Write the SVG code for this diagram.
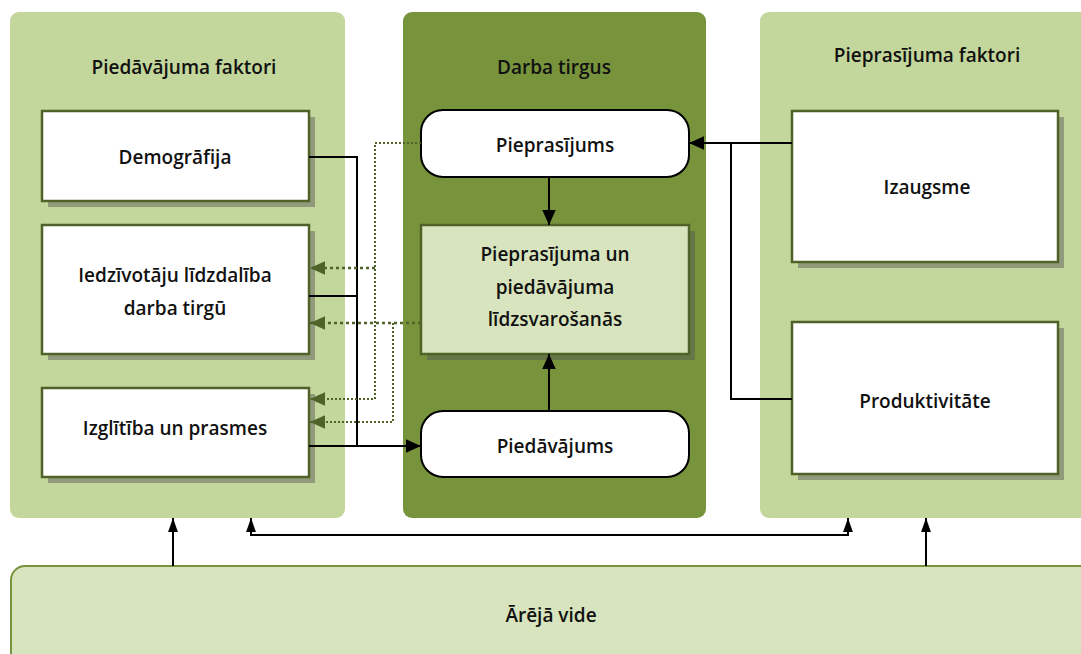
<svg xmlns="http://www.w3.org/2000/svg" width="1081" height="654" viewBox="0 0 1081 654">
<defs>
<style>
text{font-family:"Open Sans","Noto Sans",sans-serif;font-size:19px;font-weight:600;fill:#111;text-anchor:middle}
.panelL{fill:#c3d69b}
.panelM{fill:#77933c}
.box{fill:#fff;stroke:#4f6228;stroke-width:2.5}
.boxG{fill:#d7e4bd;stroke:#4f6228;stroke-width:2.5}
.sh{fill:#555;opacity:0.45}
.rbox{fill:#fff;stroke:#000;stroke-width:2}
.solid{fill:none;stroke:#000;stroke-width:2}
.dot{fill:none;stroke:#4f6228;stroke-width:2.5;stroke-dasharray:3 3}
.dotT{fill:none;stroke:#4f6228;stroke-width:2;stroke-dasharray:2 2}
</style>
<marker id="ab" viewBox="0 0 10 10" refX="10" refY="5" markerWidth="15" markerHeight="15" orient="auto" markerUnits="userSpaceOnUse"><path d="M0,0.5 L10,5 L0,9.5 z" fill="#000"/></marker>
<marker id="abn" viewBox="0 0 10 10" refX="10" refY="5" markerWidth="14" markerHeight="14" orient="auto" markerUnits="userSpaceOnUse"><path d="M0,1.5 L10,5 L0,8.5 z" fill="#000"/></marker>
<marker id="ag" viewBox="0 0 10 10" refX="10" refY="5" markerWidth="15" markerHeight="15" orient="auto" markerUnits="userSpaceOnUse"><path d="M0,0.5 L10,5 L0,9.5 z" fill="#4f6228"/></marker>
</defs>
<g id="panel-supply"><rect class="panelL" x="10" y="12" width="335" height="506" rx="9"/><text x="184" y="74">Piedāvājuma faktori</text></g>
<g id="panel-market"><rect class="panelM" x="403" y="12" width="303" height="506" rx="9"/><text x="554" y="74">Darba tirgus</text></g>
<g id="panel-demand"><rect class="panelL" x="760" y="12" width="340" height="506" rx="9"/><text x="927" y="62">Pieprasījuma faktori</text></g>
<g id="env"><rect x="11" y="566" width="1090" height="110" rx="14" fill="#d7e4bd" stroke="#77933c" stroke-width="2"/><text x="551" y="622">Ārējā vide</text></g>
<g id="demografija"><rect class="sh" x="48" y="117" width="267" height="90"/><rect class="box" x="42" y="111" width="267" height="90"/><text x="175" y="164">Demogrāfija</text></g>
<g id="lidzdaliba"><rect class="sh" x="48" y="231" width="267" height="129"/><rect class="box" x="42" y="225" width="267" height="129"/><text x="175" y="282">Iedzīvotāju līdzdalība</text><text x="175" y="315">darba tirgū</text></g>
<g id="izglitiba"><rect class="sh" x="48" y="394" width="267" height="89"/><rect class="box" x="42" y="388" width="267" height="89"/><text x="175" y="435">Izglītība un prasmes</text></g>
<g id="pieprasijums"><rect class="rbox" x="421" y="110" width="268" height="67" rx="22"/><text x="555" y="152">Pieprasījums</text></g>
<g id="lidzsvarosana"><rect class="sh" x="427" y="231" width="268" height="129"/><rect class="boxG" x="421" y="225" width="268" height="129"/><text x="555" y="261">Pieprasījuma un</text><text x="555" y="294">piedāvājuma</text><text x="555" y="326">līdzsvarošanās</text></g>
<g id="piedavajums"><rect class="rbox" x="421" y="411" width="268" height="66" rx="22"/><text x="555" y="453">Piedāvājums</text></g>
<g id="izaugsme"><rect class="sh" x="798" y="117" width="266" height="151"/><rect class="box" x="792" y="111" width="266" height="151"/><text x="927" y="194">Izaugsme</text></g>
<g id="produktivitate"><rect class="sh" x="798" y="328" width="266" height="152"/><rect class="box" x="792" y="322" width="266" height="152"/><text x="925" y="408">Produktivitāte</text></g>
<g id="connectors">
<path class="solid" d="M309,157 H357 V446"/>
<path class="solid" d="M309,296 H357"/>
<path class="solid" d="M309,446 H421" marker-end="url(#ab)"/>
<path class="dotT" d="M421,143 H375 V399 H310" marker-end="url(#ag)"/>
<path class="dot" d="M375,268 H310" marker-end="url(#ag)"/>
<path class="dot" d="M421,323 H310" marker-end="url(#ag)"/>
<path class="dotT" d="M393,323 V422 H310" marker-end="url(#ag)"/>
<path class="solid" d="M549,177 V225" marker-end="url(#ab)"/>
<path class="solid" d="M549,411 V354" marker-end="url(#ab)"/>
<path class="solid" d="M792,143 H689" marker-end="url(#ab)"/>
<path class="solid" d="M731,143 V399 H792"/>
<path class="solid" d="M173,566 V518" marker-end="url(#abn)"/>
<path class="solid" d="M926,566 V518" marker-end="url(#abn)"/>
<path class="solid" d="M251,536 V518" marker-end="url(#abn)"/>
<path class="solid" d="M251,535 H848"/>
<path class="solid" d="M848,536 V518" marker-end="url(#abn)"/>
</g>
</svg>
